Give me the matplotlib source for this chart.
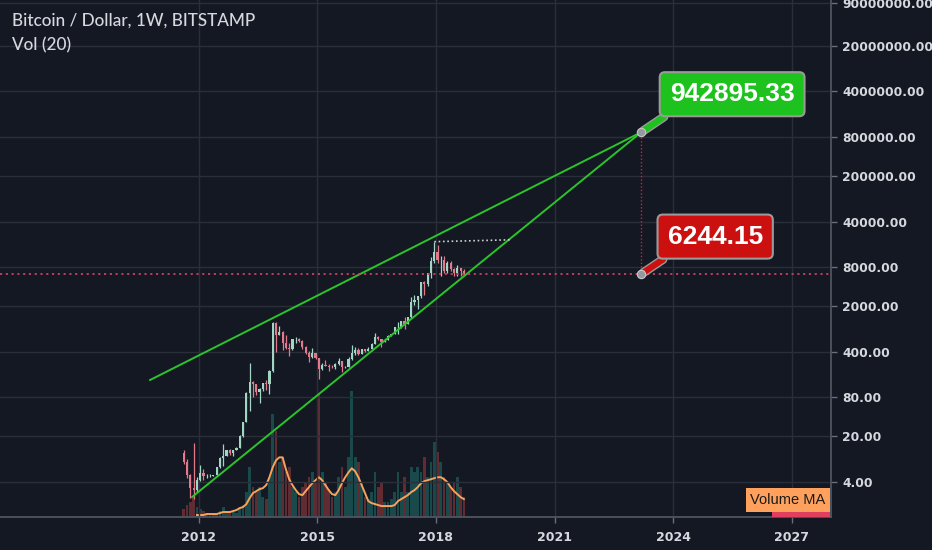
import numpy as np
import pandas as pd
import matplotlib
matplotlib.use("Agg")
import matplotlib.pyplot as plt
import matplotlib.patheffects as pe

# ---------------- data (monthly, BITSTAMP BTC/USD, Aug 2011 - Sep 2018) ----------------
start_month = "2011-08"
end_month = "2018-09"

opens = [11.0, 8.2, 5.1, 3.2, 3.0,
         4.3, 5.5, 4.9, 4.9, 5.0, 5.15, 6.7, 9.3, 10.2, 12.4, 11.2, 12.6,
         13.5, 20.4, 33.0, 93.0, 139, 128, 96, 106, 135, 127, 204, 1125,
         735, 815, 555, 450, 446, 625, 640, 580, 478, 386, 338, 378,
         320, 217, 254, 244, 236, 230, 264, 284, 230, 236, 314, 378,
         430, 368, 436, 416, 448, 531, 673, 624, 573, 608, 698, 742,
         964, 966, 1190, 1079, 1348, 2300, 2480, 2870, 4735, 4340, 6450, 10000,
         13860, 10260, 10320, 6930, 9240, 7490, 6390, 7730, 7030]
highs = [12.5, 8.9, 5.3, 16.0, 4.8,
         7.2, 6.3, 5.4, 5.3, 5.2, 6.8, 9.6, 15.4, 12.6, 12.9, 12.5, 13.8,
         20.8, 33.5, 95.0, 266, 140, 129, 111, 135, 146, 207, 1163, 1155,
         985, 840, 715, 545, 635, 680, 650, 600, 490, 415, 460, 385,
         320, 265, 300, 260, 248, 267, 318, 285, 245, 335, 500, 470,
         465, 440, 440, 467, 549, 780, 704, 627, 620, 735, 756, 975,
         1150, 1200, 1350, 1350, 2760, 2990, 2900, 4750, 4980, 6450, 11400, 19666,
         17250, 11800, 11700, 9760, 9990, 7760, 8500, 7760, 7400]
lows = [7.5, 4.6, 2.3, 2.2, 2.8,
        4.2, 4.3, 4.6, 4.8, 4.9, 5.1, 6.5, 7.1, 10.0, 10.5, 10.0, 12.2,
        13.1, 19.7, 33.0, 50.0, 80, 86, 65, 100, 104, 90, 195, 400,
        735, 420, 440, 340, 420, 555, 570, 440, 365, 275, 320, 305,
        152, 210, 240, 200, 226, 218, 253, 198, 225, 235, 300, 352,
        355, 365, 395, 412, 441, 525, 606, 470, 570, 605, 690, 742,
        750, 915, 890, 1070, 1340, 2100, 1830, 2680, 2970, 4120, 5500, 9400,
        9200, 5873, 6600, 6425, 7050, 5760, 5850, 5880, 6100]
closes = [8.2, 5.1, 3.2, 3.0, 4.3,
          5.5, 4.9, 4.9, 5.0, 5.15, 6.7, 9.3, 10.2, 12.4, 11.2, 12.6, 13.5,
          20.4, 33.0, 93.0, 139, 128, 96, 106, 135, 127, 204, 1125, 735,
          815, 555, 450, 446, 625, 640, 580, 478, 386, 338, 378, 320,
          217, 254, 244, 236, 230, 264, 284, 230, 236, 314, 378, 430,
          368, 436, 416, 448, 531, 673, 624, 573, 608, 698, 742, 964,
          966, 1190, 1079, 1348, 2300, 2480, 2870, 4735, 4340, 6450, 10000, 13860,
          10260, 10320, 6930, 9240, 7490, 6390, 7730, 7030, 6244.15]
# volume (thousand BTC, relative) and its 20-period moving average
volumes = [8, 12, 15, 20, 10,
           8, 6, 4, 3, 3, 4, 6, 10, 6, 5, 5, 4,
           8, 12, 25, 50, 30, 25, 30, 20, 18, 40, 104, 87,
           55, 60, 45, 50, 30, 25, 20, 30, 35, 40, 45, 35,
           124, 45, 35, 28, 20, 25, 40, 50, 30, 60, 127, 60,
           55, 35, 20, 18, 25, 45, 30, 35, 15, 15, 18, 25,
           45, 25, 40, 25, 50, 45, 50, 45, 60, 40, 55, 75,
           65, 55, 40, 35, 30, 35, 40, 30, 20]
vol_ma = [np.nan, np.nan, np.nan, np.nan, 2,
          2, 2, 3, 3, 3, 3, 4, 5, 5, 5, 6, 7,
          9, 10, 13, 19, 24, 26, 28, 29, 32, 40, 50, 57,
          60, 60, 48, 38, 32, 27, 23, 22, 26, 30, 34, 37,
          40, 37, 32, 27, 23, 22, 27, 34, 40, 45, 49, 46,
          40, 32, 24, 16, 14, 13, 12, 11, 11, 11, 11, 12,
          16, 18, 20, 22, 25, 27, 30, 34, 36, 37, 38, 39,
          40, 40, 38, 35, 30, 26, 23, 20, 18]

# trend lines (decimal year, price)
upper_line_x = [2010.774, 2023.19]
upper_line_y = [147.5, 942895.33]
lower_line_x = [2011.836, 2023.19]
lower_line_y = [2.35, 942895.33]
ath_ray_x = [2017.96, 2019.876]
ath_ray_y = [19666, 21000]
target_x = 2023.19
target_price = 942895.33
current_price = 6244.15

y_ticks = [4, 20, 80, 400, 2000, 8000, 40000, 200000, 800000, 4000000, 20000000, 90000000]
x_ticks = [2012, 2015, 2018, 2021, 2024, 2027]

# ---------------- style ----------------
BG = "#141823"
GRID = "#2a2e39"
TXT = "#d6d8de"
UP = "#a3d5c4"
DOWN = "#e37a8c"
VUP = "#26a69a"
VDOWN = "#ef5350"
LINE_GREEN = "#2bc42b"
BOX_EDGE = "#9a9a9a"

periods = pd.period_range(start_month, end_month, freq="M")
xs = np.array([p.year + (p.month - 1) / 12 + 0.5 / 12 for p in periods])
o = np.array(opens); h = np.array(highs); l = np.array(lows); c = np.array(closes)
up = c >= o

W, H = 932, 550
fig = plt.figure(figsize=(W / 100, H / 100), dpi=100, facecolor=BG)
rect = [0, 33 / 550, 831 / 932, 517 / 550]

# volume pane (underneath)
axv = fig.add_axes(rect, facecolor=BG)
axv.bar(xs, volumes, width=0.07, color=np.where(up, VUP, VDOWN), alpha=0.35, linewidth=0)
axv.plot(xs, vol_ma, color="#f7a35c", lw=1.4)
axv.set_ylim(0, 520)
axv.set_xlim(2006.98, 2027.99)
axv.axis("off")

# price pane (on top, transparent)
ax = fig.add_axes(rect, facecolor="none")
ax.set_yscale("log")
ax.set_xlim(2006.98, 2027.99)
ax.set_ylim(1.16, 1.014e8)

ax.grid(True, which="major", color=GRID, lw=1.0, zorder=0)
ax.set_axisbelow(True)

# candles
ax.vlines(xs, l, h, colors=np.where(up, UP, DOWN), lw=0.9, zorder=3)
ax.bar(xs, c - o, bottom=o, width=0.055, color=np.where(up, UP, DOWN), linewidth=0, zorder=3)

# trend lines
ax.plot(upper_line_x, upper_line_y, color=LINE_GREEN, lw=1.4, zorder=4)
ax.plot(lower_line_x, lower_line_y, color=LINE_GREEN, lw=1.4, zorder=4)
ax.plot(ath_ray_x, ath_ray_y, color="#d0d0d0", lw=1.2, ls=(0, (1, 1.6)), zorder=4)

# current price line and projection
ax.axhline(current_price, color="#c9405f", lw=1.3, ls=(0, (1.2, 2.0)), zorder=4)
ax.plot([target_x, target_x], [current_price, target_price], color="#c0283f",
        lw=1.0, ls=(0, (1, 1.5)), zorder=4)


def callout(value, xytext, fc, relx):
    ax.annotate(f"{value:.2f}", xy=(target_x, value), xytext=xytext,
                textcoords="offset points", ha="center", va="center",
                fontsize=19, fontweight="bold", color="white", family="Liberation Sans",
                bbox=dict(boxstyle="round,pad=0.38,rounding_size=0.2", fc=fc, ec=BOX_EDGE, lw=1.5),
                arrowprops=dict(arrowstyle="-", color=fc, lw=4.5, relpos=(relx, 0.0),
                                shrinkA=0, shrinkB=2,
                                path_effects=[pe.Stroke(linewidth=6.5, foreground=BOX_EDGE),
                                              pe.Normal()]),
                zorder=6)


callout(target_price, (65.5, 27.4), "#1ec21e", 0.08)
callout(current_price, (53.3, 27.0), "#cc1010", 0.12)
ax.plot([target_x, target_x], [target_price, current_price], ls="none", marker="o", ms=6,
        mfc="#9598a1", mec="#c8c8c8", mew=0.8, zorder=7)

# axes styling
ax.yaxis.tick_right()
ax.set_yticks(y_ticks)
ax.set_yticklabels([f"{v:.2f}" for v in y_ticks])
ax.yaxis.set_minor_locator(matplotlib.ticker.NullLocator())
ax.set_xticks(x_ticks)
ax.set_xticklabels([str(v) for v in x_ticks])
ax.tick_params(axis="y", which="major", length=4, width=1, color="#6a6e7a", pad=4,
               labelcolor=TXT, labelsize=8.8)
ax.tick_params(axis="x", which="major", length=4, width=1, color="#6a6e7a", pad=6,
               labelcolor=TXT, labelsize=9)
for lab in ax.get_xticklabels() + ax.get_yticklabels():
    lab.set_fontweight("bold")
    lab.set_family("DejaVu Sans")
for s in ["left", "top"]:
    ax.spines[s].set_visible(False)
for s in ["right", "bottom"]:
    ax.spines[s].set_color("#4f5461")
    ax.spines[s].set_linewidth(1.3)

# legend-like labels
ax.text(0.9935, 17 / 517, "Volume MA", transform=ax.transAxes, ha="right", va="center",
        fontsize=10.5, color="#1a1a1a", family="Liberation Sans",
        bbox=dict(boxstyle="square,pad=0.32", fc="#ffa15c", ec="none"), zorder=8)
ax.text(0.9935, -7 / 517, "Volume", transform=ax.transAxes, ha="right", va="center",
        fontsize=10.5, color="white", family="Liberation Sans", clip_on=True,
        bbox=dict(boxstyle="square,pad=0.32", fc="#e0405e", ec="none"), zorder=7)

fig.text(12 / W, 1 - 21 / H, "Bitcoin / Dollar, 1W, BITSTAMP", ha="left", va="center",
         fontsize=12.3, color=TXT, family="Lato", fontweight="medium")
fig.text(12 / W, 1 - 45 / H, "Vol (20)", ha="left", va="center",
         fontsize=12.3, color=TXT, family="Lato", fontweight="medium")

fig.savefig("out.png", dpi=100, facecolor=BG)
